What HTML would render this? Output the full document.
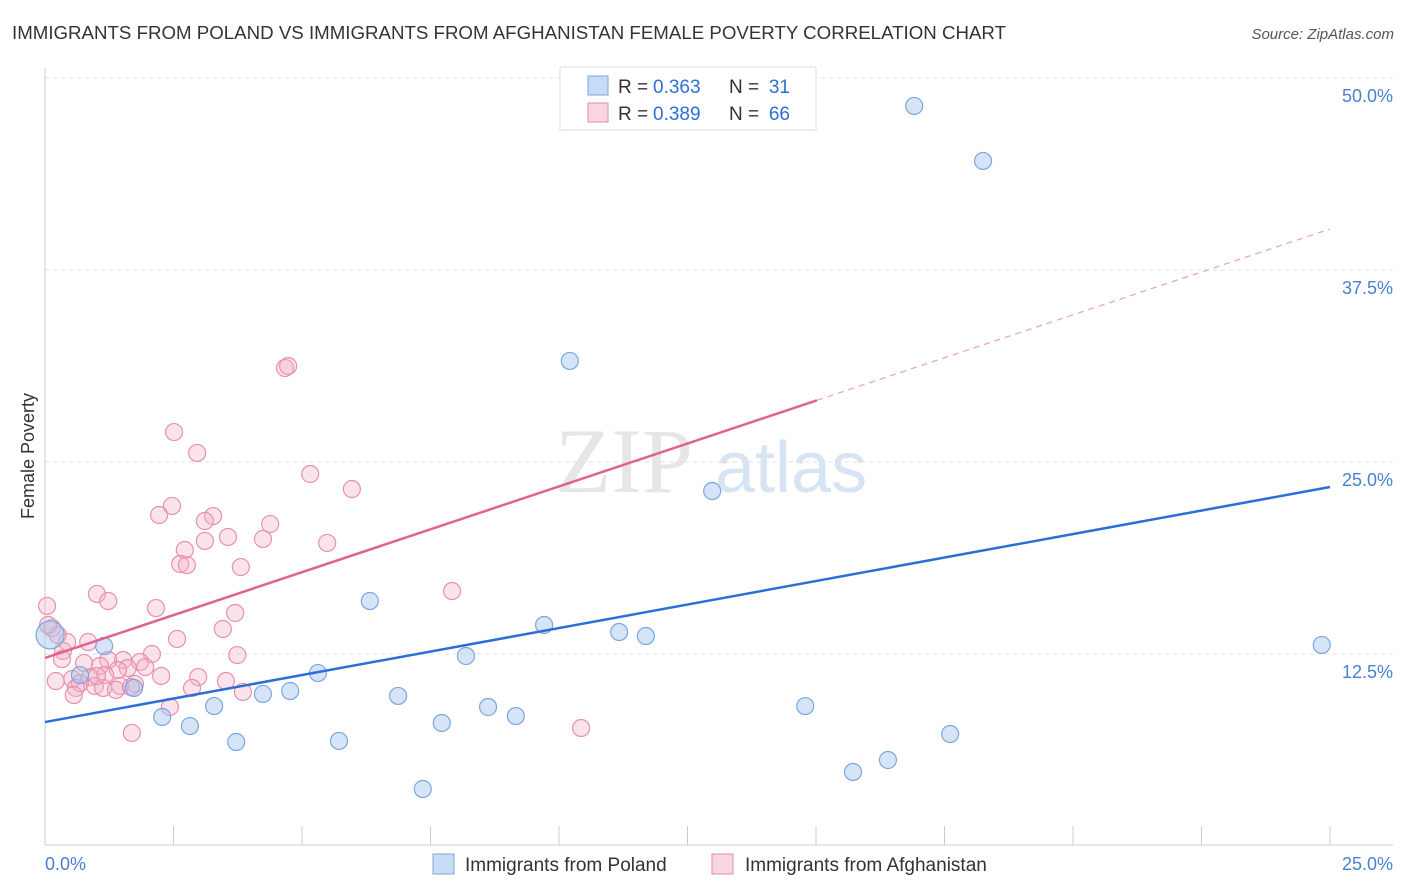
<!DOCTYPE html>
<html><head><meta charset="utf-8">
<style>
body{margin:0;background:#fff;font-family:"Liberation Sans",sans-serif;}
svg{display:block}
</style></head>
<body>
<svg id="chart" width="1406" height="892" xmlns="http://www.w3.org/2000/svg">
<text x="12" y="39" font-size="18" fill="#333" textLength="994" lengthAdjust="spacingAndGlyphs">IMMIGRANTS FROM POLAND VS IMMIGRANTS FROM AFGHANISTAN FEMALE POVERTY CORRELATION CHART</text>
<text x="1394" y="39" font-size="15" fill="#555" font-style="italic" text-anchor="end">Source: ZipAtlas.com</text>
<text x="34" y="456" font-size="18" fill="#333" text-anchor="middle" transform="rotate(-90 34 456)">Female Poverty</text>
<g><text x="555" y="492" font-size="92" fill="#e6e6e6" font-family="Liberation Serif,serif">ZIP</text><text x="715" y="492" font-size="72" fill="#d6e4f4">atlas</text></g>
<g id="grid"></g><g id="marks"></g>
<g>
<rect x="560" y="67" width="256" height="63" fill="#fff" stroke="#ddd"/>
<rect x="588" y="76" width="20" height="19" fill="rgba(164,196,238,0.6)" stroke="#7aa7e0"/>
<rect x="588" y="103" width="20" height="19" fill="rgba(244,174,200,0.5)" stroke="#e88aa9"/>
<text x="618" y="93" font-size="19" fill="#333">R =</text>
<text x="653" y="93" font-size="19" fill="#2b6fd6">0.363</text>
<text x="729" y="93" font-size="19" fill="#333">N =</text>
<text x="790" y="93" font-size="19" fill="#2b6fd6" text-anchor="end">31</text>
<text x="618" y="120" font-size="19" fill="#333">R =</text>
<text x="653" y="120" font-size="19" fill="#2b6fd6">0.389</text>
<text x="729" y="120" font-size="19" fill="#333">N =</text>
<text x="790" y="120" font-size="19" fill="#2b6fd6" text-anchor="end">66</text>
</g>
<g>
<rect x="433" y="854" width="21" height="20" fill="rgba(164,196,238,0.6)" stroke="#7aa7e0"/>
<text x="465" y="871" font-size="19" fill="#333">Immigrants from Poland</text>
<rect x="712" y="854" width="21" height="20" fill="rgba(244,174,200,0.5)" stroke="#e88aa9"/>
<text x="745" y="871" font-size="19" fill="#333">Immigrants from Afghanistan</text>
</g>
</svg>
<script>
const yTicks=[12.5,25,37.5,50];
const yTickLabels=["12.5%","25.0%","37.5%","50.0%"];
const xTickLabels=["0.0%","25.0%"];
const polandX=[16.91,18.25,10.21,12.98,6.32,9.71,11.17,11.69,24.84,1.15,8.19,5.31,0.68,1.73,4.77,4.24,6.87,3.29,8.62,14.79,2.28,9.16,2.82,7.72,3.72,5.72,17.61,16.40,15.72,7.35,0.10];
const polandY=[48.18,44.60,31.58,23.11,15.95,14.39,13.93,13.67,13.09,13.02,12.37,11.26,11.13,10.29,10.09,9.90,9.77,9.11,9.05,9.11,8.40,8.46,7.81,8.01,6.77,6.84,7.29,5.60,4.82,3.71,13.74];
const afgX=[4.67,4.73,2.51,2.96,5.16,5.97,2.47,2.22,3.27,3.11,4.38,3.56,3.11,4.24,5.49,2.72,2.63,2.76,3.81,7.92,1.01,1.23,2.16,3.70,0.04,3.46,0.14,0.25,2.57,0.43,0.84,0.35,3.74,2.08,0.33,1.23,1.52,0.76,1.85,1.07,1.61,1.95,1.42,2.26,2.98,3.52,0.21,0.53,0.88,1.17,0.68,0.97,1.46,1.75,0.60,1.13,1.38,3.85,2.86,0.56,1.67,2.43,1.69,10.43,0.06,1.01];
const afgY=[31.12,31.25,26.95,25.59,24.22,23.24,22.14,21.55,21.48,21.16,20.96,20.12,19.86,19.99,19.73,19.27,18.36,18.29,18.16,16.60,16.41,15.95,15.49,15.17,15.63,14.13,14.19,13.74,13.48,13.28,13.28,12.70,12.43,12.50,12.17,12.11,12.11,11.91,11.98,11.72,11.59,11.65,11.46,11.07,11.00,10.74,10.74,10.87,11.00,11.13,10.61,10.42,10.42,10.55,10.29,10.29,10.16,10.03,10.29,9.83,10.35,9.05,7.36,7.68,14.39,11.07];
const polandFit=[8.07,0.612];
const afgFit=[12.24,1.117];
const afgSolidEnd=[15.02];

const X=v=>45+v/25*1285;
const Y=v=>846-v/12.5*192;
const NS="http://www.w3.org/2000/svg";
function mk(tag,attrs,parent){const e=document.createElementNS(NS,tag);for(const k in attrs)e.setAttribute(k,attrs[k]);parent.appendChild(e);return e;}
const grid=document.getElementById('grid'),marks=document.getElementById('marks');
yTicks.forEach((t,i)=>{
  const g=mk('line',{x1:45,x2:1393,y1:Y(t),y2:Y(t),stroke:'#e2e2e2','stroke-dasharray':'4,4'},grid);
  
  
  const l=mk('text',{x:1393,y:Y(t)+24,'font-size':18,fill:'#4a7fd0','text-anchor':'end'},grid);
  l.textContent=yTickLabels[i];
  
  
});
const ax=mk('line',{x1:45,x2:45,y1:68,y2:845,stroke:'#ccc'},grid);


const bx=mk('line',{x1:45,x2:1393,y1:845,y2:845,stroke:'#ccc'},grid);


for(let i=0;i<=10;i++){
  const t=mk('line',{x1:X(i*2.5),x2:X(i*2.5),y1:826,y2:845,stroke:'#ccc'},grid);
  
  
}
[[0,'start',45],[25,'end',1393]].forEach((d,i)=>{
  const l=mk('text',{x:d[2],y:870,'font-size':18,fill:'#4a7fd0','text-anchor':d[1]},grid);
  l.textContent=xTickLabels[i];
  
  
});
function dots(xs,ys,fill,stroke,name){
  xs.forEach((x,i)=>{
    const big=(name==='poland-point'&&i===xs.length-1);
    const c=mk('circle',{cx:X(x),cy:Y(ys[i]),r:big?14:8.5,fill:fill,stroke:stroke,'stroke-width':1.2},marks);
    
    
  });
}
dots(afgX,afgY,'rgba(244,174,200,0.35)','#e891ad','afghanistan-point');
dots(polandX,polandY,'rgba(164,196,238,0.45)','#7aa7e0','poland-point');
const pl=mk('line',{x1:X(0),y1:Y(polandFit[0]),x2:X(25),y2:Y(polandFit[0]+polandFit[1]*25),stroke:'#2b6fd6','stroke-width':2.5},marks);


const al=mk('line',{x1:X(0),y1:Y(afgFit[0]),x2:X(afgSolidEnd[0]),y2:Y(afgFit[0]+afgFit[1]*afgSolidEnd[0]),stroke:'#e0628e','stroke-width':2.5},marks);


const ad=mk('line',{x1:X(afgSolidEnd[0]),y1:Y(afgFit[0]+afgFit[1]*afgSolidEnd[0]),x2:X(25),y2:Y(afgFit[0]+afgFit[1]*25),stroke:'#e8a0b8','stroke-width':1.2,'stroke-dasharray':'6,5'},marks);


</script>
</body></html>
